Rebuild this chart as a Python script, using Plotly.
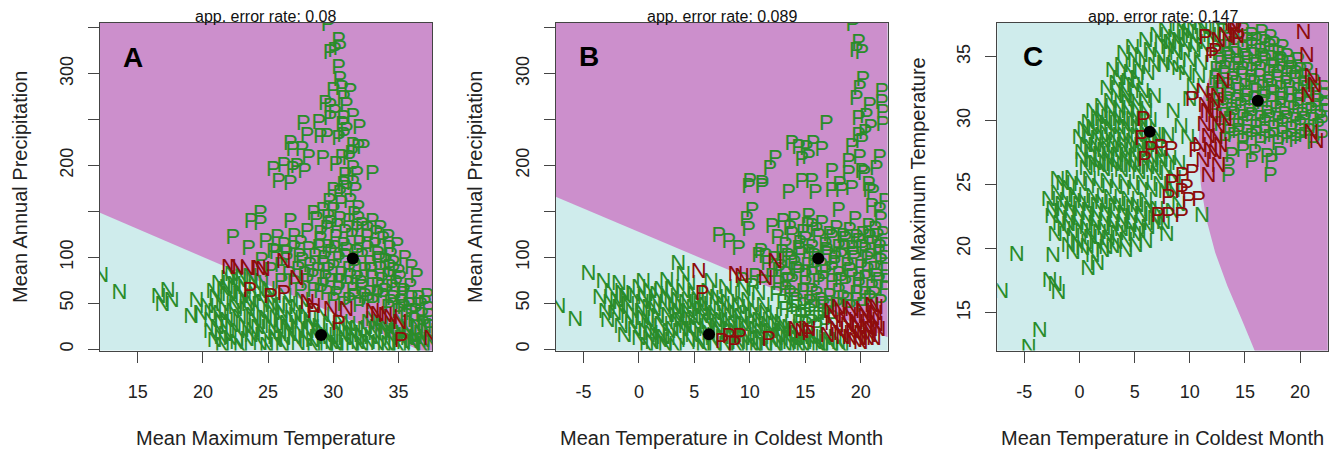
import plotly.graph_objects as go

# ---------------- data ----------------
panel_letters = ["A", "B", "C"]
panel_titles = ["app. error rate: 0.08", "app. error rate: 0.089", "app. error rate: 0.147"]
x_titles = ["Mean Maximum Temperature", "Mean Temperature in Coldest Month", "Mean Temperature in Coldest Month"]
y_titles = ["Mean Annual Precipitation", "Mean Annual Precipitation", "Mean Maximum Temperature"]

A_xticks = [15, 20, 25, 30, 35]
B_xticks = [-5, 0, 5, 10, 15, 20]
C_xticks = [-5, 0, 5, 10, 15, 20]
precip_ticks = [0, 50, 100, 150, 200, 250, 300, 350]
precip_ticklabels = ["0", "50", "100", "", "200", "", "300", ""]
C_yticks = [15, 20, 25, 30, 35]

A_xrange = [12.1, 37.6]
B_xrange = [-7.5, 22.43]
C_xrange = [-7.45, 22.5]
precip_range = [-1.5, 355.5]
C_yrange = [12.05, 37.65]

# decision boundaries (edge between N region and P region)
A_bound_x = [12.1, 37.6]
A_bound_y = [148.5, -7.0]
B_bound_x = [-7.5, 22.43]
B_bound_y = [166.0, 13.0]
C_bound_x = [13.5, 12.0, 10.9, 10.8, 11.0, 11.5, 12.3, 13.4, 14.7, 15.9]
C_bound_y = [37.7, 34.1, 31.0, 28.0, 25.0, 22.3, 19.7, 17.1, 14.5, 12.0]

# class means (black dots)
A_means = [(31.5, 98.6), (29.07, 15.5)]
B_means = [(16.17, 98.6), (6.32, 16.3)]
C_means = [(16.16, 31.56), (6.37, 29.13)]

# ---- Panel A ----
A_N_ok = [(12.2,79),(13.6,61),(16.6,56),(17.3,63),(16.9,47),(17.6,52),(19.5,52),(19.1,34),(19.8,38),(20.3,45),(20.8,62),(20.6,30),
          (21.2,70),(21.6,64),(21.9,76),(22.4,69),(22.8,74),(23.2,66),(23.6,78),(24.0,70),(24.5,72),(25.0,64),
          (21.0,55),(21.5,48),(22.0,58),(22.5,50),(23.0,56),(23.5,47),(24.0,58),(24.6,50),(25.2,56),(25.8,45),
          (21.3,38),(21.8,30),(22.3,40),(22.8,33),(23.3,42),(23.8,35),(24.3,40),(24.8,32),(25.4,38),(26.0,30),
          (21.1,22),(21.7,15),(22.2,25),(22.7,18),(23.2,24),(23.7,14),(24.2,22),(24.7,16),(25.3,24),(25.9,17),
          (20.9,8),(21.4,12),(22.6,6),(23.4,9),(24.4,5),(25.6,8),
          (26.5,22),(27.0,12),(27.5,28),(28.0,18),(28.4,8),(28.9,24),(29.4,14),(29.9,6),(30.4,20),(30.9,10),(31.4,16),
          (31.9,6),(32.4,20),(32.9,12),(33.4,5),(33.9,18),(34.4,10),(34.9,22),(35.4,6),(35.9,14),(36.4,24),(36.9,8),(37.2,18),
          (26.2,10),(26.8,32),(27.3,5),(27.8,38),(28.2,30),(28.7,12),(29.2,36),(29.7,28),(30.2,5),(30.7,14),(31.2,26),
          (31.7,10),(32.2,4),(32.7,28),(33.2,16),(33.7,26),(34.2,4),(34.7,14),(35.2,28),(35.7,20),(36.2,4),(36.7,16),
          (26.0,40),(26.6,48),(27.2,44),(27.6,52),(26.3,56),
          (26.1,3),(26.7,15),(27.3,20),(27.9,9),(28.5,2),(29.1,18),(29.7,12),(30.3,2),(30.9,20),(31.5,3),(32.1,14),
          (32.7,6),(33.3,22),(33.9,3),(34.5,16),(35.1,2),(35.7,10),(36.3,12),(36.9,2),(37.4,8),
          (26.4,27),(27.1,35),(28.4,22),(29.5,3),(30.6,28),(31.8,21),(33.0,31),(34.0,24),(35.0,18),(36.0,7),(37.0,24),
          (21.5,3),(22.1,10),(22.9,2),(23.8,19),(24.9,3),(25.5,12),(20.6,18),(21.4,28),(22.5,44),(23.6,52),(24.4,62),
          (25.3,46),(21.8,66),(22.9,61),(24.0,30),(25.1,28),(20.9,40),(23.0,77),(22.2,80)]
A_P_ok = [(29.6,353),(30.4,335),(29.75,322),(30.1,324),(30.5,326),
          (30.5,293),(30.65,283),(30.0,281),(30.8,272),(29.4,266),(29.75,263),(31.0,264),(30.1,257),(30.8,250),(31.5,252),
          (27.7,245),(28.9,246),(29.75,250),(30.7,243),(31.0,237),(29.0,230),(29.5,230),(30.4,228),(30.8,232),
          (31.5,221),(31.9,219),(32.3,219),(26.7,223),(26.9,216),(27.6,216),(28.1,208),(29.2,207),(30.65,208),(31.2,207),
          (25.4,194),(26.2,199),(26.9,194),(27.8,192),(31.5,196),(31.8,189),(33.0,190),(25.8,181),(26.7,179),(30.8,178),(31.5,179),
          (31.7,172),(31.9,152),(30.0,172),(30.5,168),(31.0,174),(31.3,160),(30.6,158),(31.6,145),
          (23.7,138),(24.4,147),(24.4,136),(26.7,138),(22.3,121),(23.5,109),(24.8,116),(25.7,121),
          (28.5,147),(29.2,150),(30.0,150),(28.7,140),(29.8,136),(30.5,140),(28.0,127),(29.0,125),(31.8,129),(32.6,129),(33.3,125),
          (27.5,114),(28.1,107),(26.4,103),(25.4,105),(34.4,101),(34.6,92),(35.1,76),(35.9,67),(36.5,54),(37.0,49),(37.3,34),
          (27.5,63),(28.5,63),(29.5,60),(31.5,63),(32.6,52),(33.8,56),
          (29.0,118),(29.6,110),(30.2,120),(30.8,112),(31.4,122),(32.0,114),(32.6,120),(33.2,112),(33.8,118),(34.3,108),
          (28.6,100),(29.2,92),(29.8,104),(30.4,96),(31.0,106),(31.6,90),(32.2,100),(32.8,92),(33.4,102),(34.0,94),(34.6,84),
          (28.8,84),(29.4,76),(30.0,88),(30.6,80),(31.2,86),(31.8,76),(32.4,84),(33.0,76),(33.6,86),(34.2,78),(34.8,70),(35.4,62),
          (29.2,68),(29.8,72),(30.4,64),(31.0,70),(31.6,56),(32.2,66),(32.8,60),(33.4,68),(34.0,62),(34.6,54),(35.2,50),
          (35.8,46),(36.3,40),(36.8,36),(37.3,42),(30.0,52),(30.8,48),(32.0,46),(33.0,50),(34.2,44),(35.0,40),(35.6,34),
          (36.2,30),(36.9,26),(37.4,22),(29.5,130),(30.3,132),(31.2,138),(32.2,134),(33.0,138),(28.2,90),(27.8,80),(28.0,72),
          (26.0,72),(25.2,84),(26.6,80),(27.0,70),(24.5,95),(25.6,104),(26.4,97),(27.0,108),(27.6,95),(26.0,90),(27.3,86),
          (29.3,98),(30.1,108),(30.9,100),(31.8,104),(32.6,108),(33.5,96),(34.3,88),(35.0,82),(28.9,110),(29.6,84),
          (30.4,72),(31.3,78),(32.1,70),(32.9,84),(33.7,74),(34.5,66),(35.3,58),(36.0,54),(36.7,46),(37.2,56),(30.2,58),
          (31.2,52),(32.4,56),(33.4,58),(34.4,50),(35.4,44),(36.0,38),(29.6,142),(30.9,126),(31.9,140),(33.6,130),
          (34.2,120),(34.9,112),(35.5,98),(36.0,88),(36.4,78),(29.0,62),(28.4,78),(27.4,100),(26.2,112),(27.0,122),
          (29.7,160),(30.9,188),(30.2,200),(31.4,212),(32.0,240),(31.3,280),(30.4,306),(28.0,232),(27.2,198)]
A_N_bad = [(22.0,88),(22.6,88),(23.4,87),(24.3,87),(24.6,86),(26.2,94),(27.2,76),(28.0,50),(28.5,45),(29.8,42),
           (31.0,42),(33.0,40),(33.4,37),(34.0,35),(34.4,33),(35.1,28),(37.5,10)]
A_P_bad = [(23.6,63),(25.2,56),(26.2,60),(28.5,40),(30.4,27),(35.2,8)]

# ---- Panel B ----
B_N_ok = [(-7.25,45),(-5.75,31),(-4.55,81),(3.55,92),(-3.5,55),(-3.0,40),
          (-2.5,62),(-2.0,52),(-1.5,60),(-1.0,48),(-0.5,58),(0.0,66),(0.5,55),(1.0,62),(1.5,50),(2.0,64),(2.5,56),
          (3.0,66),(3.5,52),(4.0,62),(4.5,70),(5.0,58),(5.5,48),(6.2,62),(7.0,55),(7.6,48),(8.3,58),(9.0,44),
          (9.8,52),(10.5,40),(11.2,46),(12.0,36),(12.8,28),(13.5,22),(14.2,16),
          (-2.8,30),(-2.2,38),(-1.6,24),(-1.0,34),(-0.4,20),(0.2,40),(0.8,30),(1.4,42),(2.0,26),(2.6,36),(3.2,44),
          (3.8,30),(4.4,40),(5.0,32),(5.6,42),(6.2,28),(6.8,38),(7.4,30),(8.0,40),(8.6,26),(9.2,34),(9.8,22),
          (10.4,30),(11.0,18),(11.6,26),
          (0.0,10),(0.6,18),(1.2,6),(1.8,14),(2.4,4),(3.0,20),(3.6,10),(4.2,24),(4.8,14),(5.4,6),(6.0,20),(6.6,10),
          (7.2,18),(7.8,4),(8.4,12),(9.0,6),(9.6,14),(10.2,4),(10.8,10),(11.4,3),(12.0,8),(12.6,14),(13.2,4),
          (13.8,10),(14.4,3),(15.0,8),(15.6,12),(16.2,4),(16.8,10),(17.4,3),(18.0,6),
          (1.0,24),(2.2,12),(3.4,28),(4.6,20),(5.8,14),(7.0,24),(8.2,20),(9.4,10),
          (6.5,72),(7.8,66),(9.5,64),(10.8,60),(4.0,80),(2.5,74),
          (-2.6,50),(-1.8,44),(-1.2,56),(-0.6,40),(0.3,50),(0.9,44),(1.6,58),(2.3,46),(2.9,52),(3.6,40),(4.2,50),
          (4.9,44),(5.3,52),(6.0,46),(6.6,54),(7.3,42),(8.0,50),(8.7,38),(9.4,48),(10.1,36),(10.8,30),(11.4,38),
          (12.2,26),(12.9,18),(13.6,12),
          (-1.3,14),(-0.7,28),(0.4,32),(1.1,16),(1.7,34),(2.7,18),(3.3,36),(3.9,20),(4.5,32),(5.1,24),(5.7,34),
          (6.3,16),(6.9,30),(7.5,12),(8.1,28),(8.7,18),(9.3,26),(9.9,8),(10.5,20),(11.1,12),(11.8,18),(12.4,10),
          (13.0,20),(13.6,6),(14.2,10),(14.8,4),(15.3,12),(15.9,6),(16.5,2),(17.1,8),(17.7,12),(18.3,2),
          (0.7,3),(2.0,8),(3.3,2),(4.5,8),(5.8,2),(6.9,4),(8.9,2),(10.6,2),(12.4,3),
          (-3.2,72),(-1.8,70),(0.4,72)]
B_P_ok = [(19.3,353),(19.8,333),(19.6,324),(20.1,322),(20.2,293),(19.9,283),(19.6,272),(20.8,264),(21.9,279),(21.9,268),
          (22.0,257),(19.8,250),(20.5,252),(22.0,243),(19.8,232),(20.4,235),(20.1,225),(16.9,245),(21.7,208),
          (13.8,223),(14.4,219),(15.1,217),(15.7,223),(16.5,216),(12.3,207),(11.8,196),(14.7,205),(15.3,208),
          (18.9,203),(19.9,208),(17.4,192),(18.9,190),(20.1,192),(10.0,181),(11.1,179),(14.7,181),(15.6,181),
          (18.1,178),(20.7,178),(9.9,176),(11.1,176),(13.5,170),(15.9,170),(17.4,172),(18.3,172),(19.2,174),
          (20.8,172),(10.2,150),(9.7,140),(9.9,129),(7.2,123),(8.1,116),(9.0,109),(10.8,101),(11.4,100),
          (21.0,154),(21.7,150),(15.3,143),(15.6,132),(18.0,150),(19.5,140),(20.7,132),(21.3,129),
          (12.5,120),(13.2,112),(13.8,124),(14.4,108),(15.0,118),(15.6,110),(16.2,122),(16.8,112),(17.4,120),
          (18.0,110),(18.6,118),(19.2,108),(19.8,116),(20.4,106),(21.0,114),(21.6,104),(22.2,112),
          (12.2,96),(12.8,88),(13.4,100),(14.0,92),(14.6,102),(15.2,90),(15.8,100),(16.4,90),(17.0,102),(17.6,92),
          (18.2,100),(18.8,90),(19.4,98),(20.0,88),(20.6,96),(21.2,86),(21.8,94),(22.3,84),
          (12.0,78),(12.6,70),(13.2,80),(13.8,72),(14.4,82),(15.0,70),(15.6,80),(16.2,72),(16.8,82),(17.4,72),
          (18.0,80),(18.6,70),(19.2,78),(19.8,68),(20.4,76),(21.0,66),(21.6,74),(22.2,64),
          (12.4,58),(13.0,50),(13.6,60),(14.2,52),(14.8,62),(15.4,50),(16.0,58),(16.6,48),(17.2,56),(17.8,46),
          (18.4,54),(19.0,44),(19.6,52),(20.2,46),(20.8,54),(13.8,40),(14.6,34),(15.4,40),(16.2,32),(17.0,38),
          (15.0,26),(16.0,22),(11.0,105),(11.6,92),(12.0,132),(13.0,138),(14.0,140),(15.2,134),(16.5,136),
          (17.8,130),(19.0,128),(20.2,124),(21.5,122),(9.3,74),(10.5,78),(11.1,71),(10.2,67),
          (12.9,104),(13.7,96),(14.5,114),(15.3,104),(16.1,96),(16.9,106),(17.7,98),(18.5,108),(19.3,102),(20.1,110),
          (20.9,100),(21.7,110),(22.2,98),(12.6,84),(13.4,74),(14.2,86),(15.0,78),(15.8,88),(16.6,76),(17.4,86),
          (18.2,74),(19.0,84),(19.8,74),(20.6,84),(21.4,78),(22.3,72),(13.2,64),(14.0,56),(14.8,46),(15.6,62),
          (16.4,52),(17.2,44),(18.0,62),(18.8,52),(19.6,60),(20.4,58),(21.2,58),(21.8,50),(14.2,44),(15.0,36),
          (15.8,44),(16.6,36),(17.4,32),(16.8,26),(15.6,28),(14.4,28),(13.2,42),(13.6,130),(14.8,126),(16.0,128),
          (17.2,124),(18.4,122),(19.6,120),(20.8,120),(22.0,124),(21.8,140),(22.2,160),(21.1,170),(20.3,190),
          (21.4,196),(19.2,220),(20.9,240)]
B_N_bad = [(5.4,83),(8.7,80),(9.3,78),(11.4,76),(12.3,94),(14.1,20),(14.7,18),(15.3,20),(17.4,27),(17.3,40),
           (17.8,20),(18.4,12),(19.0,35),(19.3,18),(19.6,28),(19.9,10),(20.2,40),(20.5,22),(20.8,14),(21.1,32),
           (21.4,44),(21.6,20),(20.0,16),(19.5,8),(20.7,30),(21.2,10),(18.8,25),
           (17.6,34),(18.0,44),(18.6,30),(19.2,42),(19.8,22),(20.4,34),(21.0,46),(21.4,26),(18.2,16),(19.0,12),
           (20.0,6),(20.9,20),(21.3,38),(17.0,14),(20.6,10)]
B_P_bad = [(5.7,60),(8.1,13),(9.1,13),(7.5,7),(11.7,9),(15.3,16),(8.6,4)]

# ---- Panel C ----
C_N_ok = [(-7.1,16.6),(-5.7,19.5),(-2.4,19.4),(-2.7,17.4),(-2.2,17.1),(-1.9,16.5),(-3.6,13.5),(-4.6,12.2),
          (2.0,31.0),(2.8,31.4),(3.6,30.9),(4.4,31.3),(5.2,30.8),
          (0.8,29.8),(1.6,30.2),(2.4,29.7),(3.2,30.1),(4.0,29.6),(4.8,30.0),(5.6,29.5),(6.4,29.9),
          (0.0,28.6),(0.8,29.0),(1.6,28.5),(2.4,28.9),(3.2,28.4),(4.0,28.8),(4.8,28.3),(5.6,28.7),(6.4,28.2),(7.2,28.6),
          (0.2,27.4),(1.0,27.8),(1.8,27.3),(2.6,27.7),(3.4,27.2),(4.2,27.6),(5.0,27.1),(5.8,27.5),(6.6,27.0),(7.4,27.4),
          (0.6,26.2),(1.4,26.6),(2.2,26.1),(3.0,26.5),(3.8,26.0),(4.6,26.4),(5.4,25.9),(6.2,26.3),(7.0,25.8),(7.8,26.2),
          (-1.5,25.0),(-0.7,25.4),(0.1,24.9),(0.9,25.3),(1.7,24.8),(2.5,25.2),(3.3,24.7),(4.1,25.1),(4.9,24.6),
          (5.7,25.0),(6.5,24.5),(7.3,24.9),
          (-2.8,23.8),(-2.0,24.2),(-1.2,23.7),(-0.4,24.1),(0.4,23.6),(1.2,24.0),(2.0,23.5),(2.8,23.9),(3.6,23.4),
          (4.4,23.8),(5.2,23.3),(6.0,23.7),
          (-2.5,22.4),(-1.7,22.8),(-0.9,22.3),(-0.1,22.7),(0.7,22.2),(1.5,22.6),(2.3,22.1),(3.1,22.5),(3.9,22.0),
          (4.7,22.4),(5.5,21.9),
          (-2.2,21.0),(-1.4,21.4),(-0.6,20.9),(0.2,21.3),(1.0,20.8),(1.8,21.2),(2.6,20.7),(3.4,21.1),(4.2,20.6),(5.0,21.0),
          (-0.6,19.6),(0.3,19.9),(1.2,19.4),(2.1,19.8),(3.0,20.1),(0.8,18.4),(1.6,18.8),
          (7.9,21.0),(11.1,22.5),(7.0,23.0),(8.5,24.5),
          (2.5,32.4),(3.3,32.8),(4.1,32.3),(4.9,32.7),(5.7,32.2),(3.0,33.8),(3.8,34.2),(4.6,33.7),(5.4,34.1),(6.2,33.6),
          (4.0,35.2),(4.8,35.6),(5.6,35.0),(6.4,35.4),(7.2,35.0),(8.0,35.6),(8.8,35.2),(9.6,35.8),(10.4,35.4),(11.2,35.8),
          (7.0,36.6),(7.8,37.0),(8.6,36.4),(9.4,36.9),(10.2,36.5),(11.0,37.2),(11.8,36.6),(12.6,37.3),
          (9.0,34.0),(9.6,33.6),(10.3,32.6),(10.0,31.6),(8.5,30.6),(9.2,29.5),(8.0,28.8),(9.8,28.6),
          (1.2,30.6),(2.0,30.0),(2.8,30.6),(3.6,30.0),(4.4,30.6),(5.2,30.0),(6.0,30.6),(0.4,29.2),(1.2,29.4),(2.0,28.8),
          (2.8,29.4),(3.6,28.8),(4.4,29.4),(5.2,28.8),(6.0,29.4),(6.8,28.8),(0.6,28.0),(1.4,28.0),(2.2,27.6),(3.0,28.0),
          (3.8,27.6),(4.6,28.0),(5.4,27.6),(6.2,28.0),(7.0,27.6),(0.2,26.8),(1.0,26.8),(1.8,26.4),(2.6,26.8),(3.4,26.4),
          (4.2,26.8),(5.0,26.4),(5.8,26.8),(6.6,26.4),(7.4,26.8),
          (-2.4,23.0),(-1.6,23.4),(-0.8,23.0),(0.0,23.4),(0.8,22.9),(1.6,23.3),(2.4,22.8),(3.2,23.2),(4.0,22.7),
          (4.8,23.1),(5.6,22.6),(6.4,23.0),(-1.8,21.9),(-1.0,21.8),(-0.2,21.9),(0.6,21.6),(1.4,21.9),(2.2,21.5),
          (3.0,21.8),(3.8,21.4),(4.6,21.7),(5.4,21.3),(6.2,21.6),(7.0,21.9),(-1.0,20.2),(-0.2,20.4),(0.7,20.1),
          (1.5,20.4),(2.4,20.0),(3.3,20.4),(4.2,19.8),(5.1,20.2),(6.0,20.5),(6.8,22.3),(7.6,22.0),(8.4,22.8),(9.0,23.4),
          (-2.0,25.3),(-1.0,24.6),(7.8,24.4),(8.6,25.4),(9.0,26.6),(8.2,27.0),
          (3.4,31.8),(4.2,31.8),(5.0,31.6),(6.0,31.4),(6.8,31.8),(3.6,33.2),(4.4,33.0),(5.2,33.2),(6.8,34.2),(7.6,34.4),
          (8.4,34.2),(5.0,34.6),(6.0,36.2),(7.4,36.0),(8.2,36.0),(9.0,36.2),(9.8,36.8),(10.6,36.0),(11.4,37.0),
          (12.2,36.4),(9.0,37.4),(10.0,37.5),(8.6,35.4),(10.0,34.6),(11.0,34.4),(10.8,33.4)]
C_P_ok = [(13.0,36.9),(14.8,37.0),(15.6,36.6),(16.5,36.8),(17.3,36.4),
          (13.2,35.6),(14.0,35.9),(14.8,35.5),(15.6,35.8),(16.4,35.3),(17.2,35.7),(18.0,35.2),(18.8,34.9),
          (12.8,34.4),(13.6,34.8),(14.4,34.3),(15.2,34.7),(16.0,34.2),(16.8,34.6),(17.6,34.1),(18.4,34.5),(19.2,34.0),(20.0,33.8),
          (12.3,33.2),(13.1,33.6),(13.9,33.1),(14.7,33.5),(15.5,33.0),(16.3,33.4),(17.1,32.9),(17.9,33.3),(18.7,32.8),
          (19.5,33.2),(20.3,32.7),(21.0,32.4),
          (12.0,32.0),(12.8,32.4),(13.6,31.9),(14.4,32.3),(15.2,31.8),(16.0,32.2),(16.8,31.7),(17.6,32.1),(18.4,31.6),
          (19.2,32.0),(20.0,31.5),(20.8,31.9),(21.6,31.4),(22.2,31.8),
          (12.2,30.8),(13.0,31.2),(13.8,30.7),(14.6,31.1),(15.4,30.6),(16.2,31.0),(17.0,30.5),(17.8,30.9),(18.6,30.4),
          (19.4,30.8),(20.2,30.3),(21.0,30.7),(21.8,30.2),(22.4,30.6),
          (12.8,29.6),(13.6,30.0),(14.4,29.5),(15.2,29.9),(16.0,29.4),(16.8,29.8),(17.6,29.3),(18.4,29.7),(19.2,29.2),
          (20.0,29.6),(20.8,29.1),(21.6,29.5),
          (13.2,28.4),(14.0,28.8),(14.8,28.3),(15.6,28.7),(16.4,28.2),(17.2,28.6),(18.0,28.1),(18.8,28.5),(19.6,28.4),(20.4,28.8),
          (13.8,27.2),(14.8,27.6),(15.9,27.4),(17.0,27.1),(18.2,27.3),
          (13.5,26.4),(13.5,25.6),(15.6,26.7),(17.4,26.7),(17.3,25.6),
          (13.6,36.2),(14.4,36.4),(15.2,36.2),(16.0,36.2),(16.8,36.0),(17.6,35.9),(18.4,35.6),(12.6,35.2),(13.4,35.0),
          (14.2,35.1),(15.0,34.9),(15.8,35.0),(16.6,34.9),(17.4,34.8),(18.2,34.7),(19.0,34.4),(19.8,34.6),(20.6,33.8),
          (12.4,33.9),(13.2,34.0),(14.0,33.9),(14.8,33.9),(15.6,33.8),(16.4,33.9),(17.2,33.7),(18.0,33.7),(18.8,33.6),
          (19.6,33.6),(20.4,33.4),(21.2,33.0),(12.6,32.8),(13.4,32.7),(14.2,32.8),(15.0,32.6),(15.8,32.8),(16.6,32.5),
          (17.4,32.6),(18.2,32.4),(19.0,32.5),(19.8,32.3),(20.6,32.4),(21.4,32.2),(22.2,32.4),(12.6,31.5),(13.4,31.6),
          (14.2,31.5),(15.0,31.4),(15.8,31.6),(16.6,31.3),(17.4,31.4),(18.2,31.2),(19.0,31.4),(19.8,31.1),(20.6,31.2),
          (21.4,31.0),(22.2,31.1),(13.2,30.3),(14.0,30.4),(14.8,30.2),(15.6,30.3),(16.4,30.1),(17.2,30.2),(18.0,30.0),
          (18.8,30.1),(19.6,29.9),(20.4,30.0),(21.2,29.9),(22.0,29.8),(13.6,29.0),(14.4,29.1),(15.2,29.0),(16.0,28.9),
          (16.8,29.0),(17.6,28.8),(18.4,28.9),(19.2,28.7),(20.0,28.6),(21.2,28.2),(22.0,28.6)]
C_N_bad = [(11.4,31.1),(12.0,30.3),(12.6,29.5),(11.7,28.7),(13.2,30.0),(10.9,28.0),(12.3,27.4),(11.7,25.6),(12.6,26.4),
           (11.2,32.2),(12.5,31.8),(20.3,36.8),(20.6,35.0),(21.0,33.4),(21.3,32.7),(20.7,31.9),(21.0,29.0),(21.5,28.3),
           (14.0,37.3),(14.3,36.5),(13.0,33.0),(11.3,29.6),(11.9,27.6),(12.4,28.6),(11.6,30.6),(12.2,31.4),(12.8,28.0),
           (11.2,26.8),(12.6,36.2),(13.2,36.6),(13.8,37.5)]
C_P_bad = [(5.8,30.0),(10.2,31.6),(6.5,27.7),(7.4,27.8),(8.3,27.7),(10.5,27.6),(5.6,28.5),(5.9,26.9),(8.35,25.1),
           (9.3,25.6),(10.2,25.9),(8.05,23.9),(9.26,24.4),(9.9,23.7),(10.8,23.8),(7.1,22.5),(8.05,22.5),(9.26,22.5),
           (9.7,24.7),(12.3,35.3),(12.0,35.0),(14.1,37.1),(14.4,36.3),(11.4,36.4)]

# ---------------- style ----------------
PURPLE = "#CC8FCC"
CYAN = "#CFECEC"
GREEN = "#2A8C2A"
RED = "#8E0C0C"
FONT = "Liberation Sans, Arial, sans-serif"
LETTER_FONT = "Liberation Sans Narrow, Arial Narrow, Liberation Sans, sans-serif"
LETTER_SIZE = 22

fig = go.Figure()

def unzip(pts):
    return [p[0] for p in pts], [p[1] for p in pts]

def add_panel(idx, bx, by, xr, yr, right_side_polygon, n_ok, p_ok, n_bad, p_bad, means):
    xa = "x" if idx == 1 else f"x{idx}"
    ya = "y" if idx == 1 else f"y{idx}"
    if right_side_polygon:
        px = list(bx) + [xr[1] + 1, xr[1] + 1]
        py = list(by) + [by[-1], by[0]]
    else:
        px = list(bx) + [xr[1], xr[0]]
        py = list(by) + [yr[1] + 5, yr[1] + 5]
    fig.add_trace(go.Scatter(x=px, y=py, mode="lines", fill="toself", fillcolor=PURPLE,
                             line=dict(width=0, color=PURPLE), hoverinfo="skip",
                             showlegend=False, xaxis=xa, yaxis=ya))
    for pts, letter, col in [(n_ok, "N", GREEN), (p_ok, "P", GREEN), (n_bad, "N", RED), (p_bad, "P", RED)]:
        x, y = unzip(pts)
        fig.add_trace(go.Scatter(x=x, y=y, mode="text", text=[letter] * len(x),
                                 textposition="middle center",
                                 textfont=dict(family=LETTER_FONT, size=LETTER_SIZE, color=col),
                                 hoverinfo="skip", showlegend=False, xaxis=xa, yaxis=ya))
    mx, my = unzip(means)
    fig.add_trace(go.Scatter(x=mx, y=my, mode="markers", marker=dict(size=12, color="black"),
                             hoverinfo="skip", showlegend=False, xaxis=xa, yaxis=ya))

add_panel(1, A_bound_x, A_bound_y, A_xrange, precip_range, False, A_N_ok, A_P_ok, A_N_bad, A_P_bad, A_means)
add_panel(2, B_bound_x, B_bound_y, B_xrange, precip_range, False, B_N_ok, B_P_ok, B_N_bad, B_P_bad, B_means)
add_panel(3, C_bound_x, C_bound_y, C_xrange, C_yrange, True, C_N_ok, C_P_ok, C_N_bad, C_P_bad, C_means)

W, H = 1330, 450
xdoms = [[100.0 / W, 432.3 / W], [555.7 / W, 887.7 / W], [997.3 / W, 1327.7 / W]]
ydom = [1 - 350.5 / H, 1 - 22.7 / H]

axis_common = dict(showline=True, mirror=True, linecolor="#444444", linewidth=1,
                   ticks="outside", ticklen=11, tickcolor="#444444", tickwidth=1,
                   showgrid=False, zeroline=False,
                   tickfont=dict(family=FONT, size=18, color="#222222"))

layout = dict(width=W, height=H, margin=dict(l=0, r=0, t=0, b=0),
              paper_bgcolor="white", plot_bgcolor=CYAN, showlegend=False)

xr_list = [A_xrange, B_xrange, C_xrange]
xt_list = [A_xticks, B_xticks, C_xticks]
yr_list = [precip_range, precip_range, C_yrange]
yt_list = [(precip_ticks, precip_ticklabels), (precip_ticks, precip_ticklabels),
           (C_yticks, [str(v) for v in C_yticks])]
for i in range(3):
    sx = "" if i == 0 else str(i + 1)
    layout["xaxis" + sx] = dict(axis_common, domain=xdoms[i], range=xr_list[i], anchor="y" + sx,
                                tickmode="array", tickvals=xt_list[i],
                                ticktext=[str(v) for v in xt_list[i]], ticklabelstandoff=14)
    layout["yaxis" + sx] = dict(axis_common, domain=ydom, range=yr_list[i], anchor="x" + sx,
                                tickmode="array", tickvals=yt_list[i][0], ticktext=yt_list[i][1],
                                tickangle=-90, ticklabelstandoff=8)

fig.update_layout(**layout)

title_cx = [266.2, 721.7, 1162.5]
letter_pos = [(133, 57), (588.5, 56), (1033, 56)]
ytitle_x = [20, 475, 918]
for i in range(3):
    fig.add_annotation(x=title_cx[i] / W, y=1 - 16 / H, xref="paper", yref="paper",
                       text=panel_titles[i], showarrow=False, xanchor="center", yanchor="middle",
                       font=dict(family=FONT, size=16, color="#111111"))
    fig.add_annotation(x=letter_pos[i][0] / W, y=1 - letter_pos[i][1] / H, xref="paper", yref="paper",
                       text="<b>" + panel_letters[i] + "</b>", showarrow=False, xanchor="center",
                       yanchor="middle", font=dict(family=FONT, size=28, color="black"))
    fig.add_annotation(x=title_cx[i] / W, y=1 - 438 / H, xref="paper", yref="paper",
                       text=x_titles[i], showarrow=False, xanchor="center", yanchor="middle",
                       font=dict(family=FONT, size=20, color="#222222"))
    fig.add_annotation(x=ytitle_x[i] / W, y=1 - 187 / H, xref="paper", yref="paper",
                       text=y_titles[i], showarrow=False, xanchor="center", yanchor="middle",
                       textangle=-90, font=dict(family=FONT, size=20, color="#222222"))

fig.write_html("out.html")
